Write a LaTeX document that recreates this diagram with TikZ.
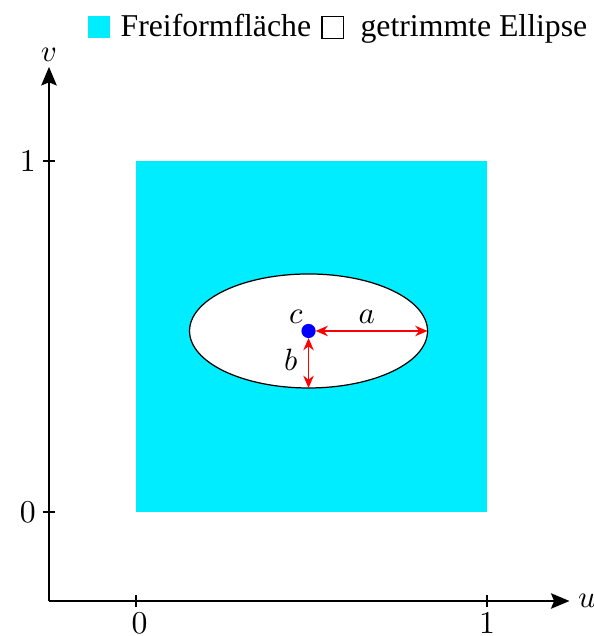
\documentclass[tikz,border=0pt]{standalone}
\usepackage{fontspec}
\newfontfamily\legfont{Liberation Serif}
\usetikzlibrary{arrows.meta}
\definecolor{surf}{RGB}{0,236,255}
\begin{document}
\begin{tikzpicture}[x=4cm,y=4cm,
  axisline/.style={line width=0.6pt,-{Stealth[length=6pt,width=5pt,inset=1pt]}},
  tickline/.style={line width=0.5pt},
  dimarrow/.style={red,line width=0.45pt,{Stealth[length=4pt,width=3.4pt]}-{Stealth[length=4pt,width=3.4pt]}},
  legtext/.style={anchor=base west,inner sep=0pt,font=\legfont\fontsize{10.3}{12}\selectfont},
  ticklabel/.style={inner sep=1pt,font=\fontsize{10.3}{12}\selectfont}]
\useasboundingbox (-0.3875,-0.3533) rectangle (1.302,1.4587);
% surface
\fill[surf] (0,0) rectangle (1,1);
% trimmed ellipse
\coordinate (c) at (0.4915,0.5157);
\filldraw[fill=white,draw=black,line width=0.4pt] (c) ellipse [x radius=0.339,y radius=0.1624];
\coordinate (aend) at (0.8305,0.5157);
\coordinate (bend) at (0.4915,0.3533);
\draw[dimarrow] (c) ++(0.02,0) -- (aend);
\draw[dimarrow] (c) ++(0,-0.02) -- (bend);
\node[circle,fill=blue,inner sep=0pt,minimum size=4.6pt] (dot) at (c) {};
\node (lc) at (0.455,0.5567) {$c$};
\node (la) at (0.6575,0.5567) {$a$};
\node (lb) at (0.441,0.4347) {$b$};
% axes
\coordinate (O) at (-0.2479,-0.2536);
\coordinate (xtip) at (1.235,-0.2536);
\coordinate (ytip) at (-0.2479,1.268);
\draw[axisline] (O) -- (xtip);
\draw[axisline] (O) -- (ytip);
\node (ul) at (1.285,-0.2536) {$u$};
\node (vl) at (-0.2479,1.303) {$v$};
% ticks
\coordinate (tx0) at (0,-0.2536);
\coordinate (tx1) at (1,-0.2536);
\coordinate (ty0) at (-0.2479,0);
\coordinate (ty1) at (-0.2479,1);
\draw[tickline] (tx0) ++(0,-0.0185) -- ++(0,0.037);
\draw[tickline] (tx1) ++(0,-0.0185) -- ++(0,0.037);
\draw[tickline] (ty0) ++(-0.0185,0) -- ++(0.037,0);
\draw[tickline] (ty1) ++(-0.0185,0) -- ++(0.037,0);
\node[ticklabel,inner sep=0pt,anchor=north] (x0l) at (0.01,-0.2835) {0};
\node[ticklabel,inner sep=0pt,anchor=north] (x1l) at (1,-0.2835) {1};
\node[ticklabel,anchor=east] (y0l) at (-0.275,0) {0};
\node[ticklabel,anchor=east] (y1l) at (-0.275,1) {1};
% legend
\fill[surf] (-0.137,1.350) rectangle (-0.074,1.413);
\node[legtext] (l1) at (-0.0456,1.356) {Freiformfläche};
\draw[line width=0.4pt,fill=white] (0.530,1.350) rectangle (0.592,1.412);
\node[legtext] (l2) at (0.638,1.356) {getrimmte Ellipse};
\end{tikzpicture}
\end{document}
